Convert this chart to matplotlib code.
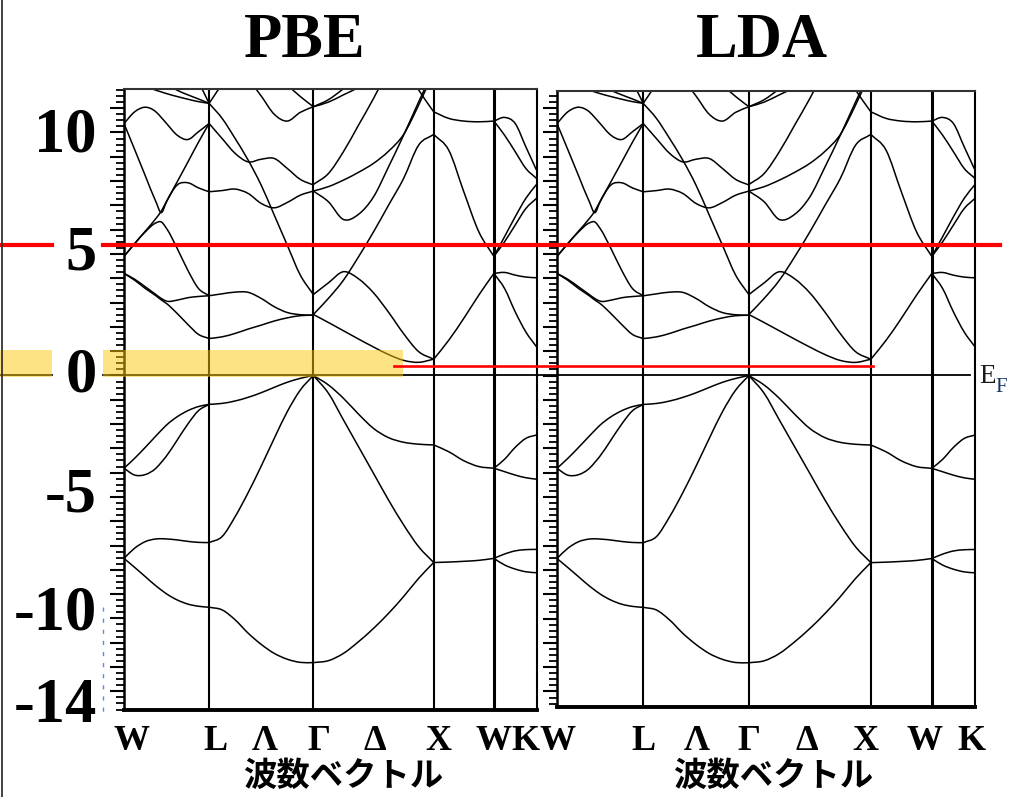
import numpy as np
import matplotlib.pyplot as plt
from matplotlib.ticker import MultipleLocator
from matplotlib.transforms import blended_transform_factory, ScaledTranslation
from matplotlib.patches import Rectangle, PathPatch
from matplotlib.lines import Line2D
from matplotlib.path import Path

plt.rcParams['font.family'] = ['Liberation Serif', 'DejaVu Serif']

# k-path W-L-Γ-X-W-K (2π/a units), labels incl. Λ and Δ midpoints
sym_k = [0.0, 0.707, 1.573, 2.573, 3.073, 3.427]
k_names = ['W', 'L', 'Λ', 'Γ', 'Δ', 'X', 'W', 'K']

# sampling fractions along each segment
frac_wl = [0, 0.125, 0.25, 0.375, 0.4375, 0.5, 0.625, 0.75, 0.875, 1]
frac9 = [0, 0.125, 0.25, 0.375, 0.5, 0.625, 0.75, 0.875, 1]
frac5 = [0, 0.25, 0.5, 0.75, 1]

# energies (eV), one row per curve
wl_bands = [
    [-7.53, -7.90, -8.28, -8.66, -8.83, -8.99, -9.24, -9.41, -9.50, -9.54],
    [-7.53, -7.11, -6.84, -6.73, -6.72, -6.73, -6.77, -6.83, -6.87, -6.88],
    [-3.82, -4.10, -4.08, -3.82, -3.58, -3.31, -2.66, -2.00, -1.45, -1.19],
    [-3.82, -3.41, -2.96, -2.49, -2.26, -2.04, -1.70, -1.45, -1.28, -1.19],
    [4.20, 3.92, 3.58, 3.28, 3.11, 2.96, 2.55, 2.10, 1.69, 1.52],
    [4.20, 3.96, 3.65, 3.33, 3.17, 3.06, 3.10, 3.20, 3.25, 3.28],
    [4.90, 5.43, 5.91, 6.28, 6.32, 6.05, 5.23, 4.33, 3.58, 3.28],
    [4.90, 5.42, 5.94, 6.46, 6.76, 7.17, 7.97, 8.78, 9.60, 10.37],
    [10.37, 9.30, 8.22, 7.15, 6.70, 7.15, 7.84, 7.93, 7.72, 7.56],
    [10.37, 10.85, 11.04, 10.85, 10.62, 10.37, 9.89, 9.71, 10.03, 10.37],
    [12.3, 12.1, 11.9, 11.74, 11.67, 11.6, 11.48, 11.37, 11.27, 11.2],
    [13.4, 13.0, 12.6, 12.3, 12.15, 12.0, 11.74, 11.55, 11.38, 11.2],
    [15.0, 14.8, 14.6, 14.3, 14.1, 13.9, 13.5, 13.0, 12.1, 11.2],
]
lg_bands = [
    [-9.54, -9.65, -10.06, -10.61, -11.07, -11.44, -11.68, -11.81, -11.82],
    [-6.88, -6.63, -5.81, -4.82, -3.73, -2.59, -1.49, -0.60, 0.0],
    [-1.19, -1.15, -1.05, -0.90, -0.71, -0.49, -0.28, -0.12, 0.0],
    [1.52, 1.59, 1.73, 1.91, 2.07, 2.24, 2.37, 2.46, 2.48],
    [3.28, 3.36, 3.43, 3.42, 3.17, 2.83, 2.59, 2.50, 2.48],
    [11.2, 10.58, 9.75, 8.86, 7.83, 6.60, 5.36, 4.13, 3.33],
    [10.37, 9.75, 9.14, 8.79, 8.90, 8.93, 8.52, 8.07, 7.84],
    [7.56, 7.61, 7.67, 7.49, 7.08, 6.90, 7.12, 7.42, 7.59],
    [14.0, 13.4, 12.8, 12.2, 11.5, 10.75, 10.47, 10.83, 11.06],
    [14.2, 13.9, 13.6, 13.3, 12.9, 12.4, 11.95, 11.48, 11.06],
    [11.2, 12.0, 12.8, 13.5, 14.0, 14.5, 15.0, 15.0, 15.0],
]
gx_bands = [
    [-11.82, -11.74, -11.44, -10.96, -10.41, -9.79, -9.10, -8.35, -7.70],
    [0.0, -0.73, -1.83, -2.93, -4.03, -5.13, -6.15, -7.05, -7.70],
    [0.0, -0.39, -0.94, -1.59, -2.18, -2.56, -2.75, -2.83, -2.86],
    [2.51, 2.18, 1.84, 1.50, 1.17, 0.86, 0.62, 0.54, 0.67],
    [3.33, 3.81, 4.27, 3.98, 3.40, 2.60, 1.72, 0.98, 0.67],
    [2.51, 3.17, 3.92, 4.88, 5.91, 7.01, 8.11, 9.48, 9.92],
    [7.59, 7.15, 6.42, 6.63, 7.35, 8.59, 9.89, 11.26, 12.6],
    [7.59, 7.77, 8.04, 8.36, 8.73, 9.23, 9.92, 11.13, 12.5],
    [7.86, 8.31, 9.21, 10.30, 11.40, 12.6, 13.8, 15.0, 16.0],
    [11.06, 11.35, 11.8, 12.3, 12.8, 13.3, 13.8, 14.3, 14.8],
    [11.06, 11.25, 11.55, 11.85, 12.2, 12.6, 13.0, 13.4, 13.8],
    [16.0, 15.5, 15.0, 14.5, 14.0, 13.5, 12.8, 11.75, 10.85],
]
xw_bands = [
    [-7.70, -7.68, -7.65, -7.61, -7.53],
    [-2.86, -3.14, -3.51, -3.75, -3.82],
    [0.67, 1.45, 2.35, 3.31, 4.20],
    [9.92, 9.27, 7.56, 5.91, 4.90],
    [10.85, 10.58, 10.47, 10.44, 10.47],
]
wk_bands = [
    [-7.53, -7.80, -7.97, -8.08, -8.12],
    [-7.53, -7.35, -7.22, -7.17, -7.16],
    [-3.82, -3.96, -4.10, -4.21, -4.27],
    [-3.82, -3.45, -2.96, -2.59, -2.45],
    [4.20, 3.58, 2.62, 1.79, 1.18],
    [4.20, 4.24, 4.13, 4.05, 4.02],
    [4.90, 5.50, 6.19, 6.87, 7.29],
    [4.90, 5.71, 6.53, 7.29, 7.86],
    [10.47, 10.62, 10.37, 9.41, 8.45],
    [10.47, 9.89, 9.21, 8.52, 8.11],
]

segments = [(0, 1, frac_wl, wl_bands), (1, 2, frac9, lg_bands),
            (2, 3, frac9, gx_bands), (3, 4, frac5, xw_bands),
            (4, 5, frac5, wk_bands)]

ytick_text = ['10', '5', '0', '-5', '-10', '-14']
ytick_base = [9.2, 4.38, -0.68, -5.62, -10.47, -14.26]   # label baselines

# label nudges in pixels (left panel, right panel)
xlab_dx_L = [8, 6, 4, 5, 1, 5, 0, -11.5]
xlab_dx_R = [0.5, 0, 1, 0, -3, -5, -7, -4]

highlight_red = 5.36     # red marker line
cbm_red = 0.37           # short red line near CBM
yellow_band = (-0.06, 1.05)


def smooth_path(x, y):
    # cubic Hermite through the read points, drawn as bezier pieces
    x = np.asarray(x, float)
    y = np.asarray(y, float)
    h = np.diff(x)
    d = np.diff(y) / h
    m = np.empty_like(y)
    m[0], m[-1] = d[0], d[-1]
    m[1:-1] = (h[1:] * d[:-1] + h[:-1] * d[1:]) / (h[:-1] + h[1:])
    verts = [(x[0], y[0])]
    codes = [Path.MOVETO]
    for i in range(len(h)):
        verts += [(x[i] + h[i] / 3, y[i] + m[i] * h[i] / 3),
                  (x[i + 1] - h[i] / 3, y[i + 1] - m[i + 1] * h[i] / 3),
                  (x[i + 1], y[i + 1])]
        codes += [Path.CURVE4] * 3
    return Path(verts, codes)


def draw_panel(ax, ylim, labels_on, xlab_dx):
    for i0, i1, fr, bands in segments:
        k = sym_k[i0] + np.array(fr) * (sym_k[i1] - sym_k[i0])
        for e in bands:
            ax.add_patch(PathPatch(smooth_path(k, e), fill=False,
                                   edgecolor='black', lw=1.1))
    for i in range(1, 5):
        ax.axvline(sym_k[i], color='black', lw=2.2 if i == 4 else 1.5)
    ax.set_xlim(sym_k[0], sym_k[-1])
    ax.set_ylim(*ylim)

    ax.set_xticks([])
    kt = [sym_k[0], sym_k[1], (sym_k[1] + sym_k[2]) / 2, sym_k[2],
          (sym_k[2] + sym_k[3]) / 2, sym_k[3], sym_k[4], sym_k[5]]
    base = blended_transform_factory(ax.transData, fig.transFigure)
    for name, kx, dx in zip(k_names, kt, xlab_dx):
        tr = base + ScaledTranslation(dx / 100, 0, fig.dpi_scale_trans)
        ax.text(kx, 1 - 750 / H, name, transform=tr, ha='center',
                va='baseline', fontsize=26, fontweight='bold', clip_on=False)

    ax.yaxis.set_major_locator(MultipleLocator(1))
    ax.yaxis.set_minor_locator(MultipleLocator(0.25))
    ax.tick_params(axis='y', which='major', direction='out', length=10,
                   width=1.5, labelleft=False)
    ax.tick_params(axis='y', which='minor', direction='out', length=5.5,
                   width=1.3)

    ax.spines['bottom'].set_linewidth(2.8)
    ax.spines['left'].set_linewidth(1.8)
    ax.spines['top'].set_linewidth(1.5)
    ax.spines['top'].set_color('#333333')
    ax.spines['right'].set_linewidth(1.5)

    if labels_on:
        tr = blended_transform_factory(ax.transAxes, ax.transData)
        for t, b in zip(ytick_text, ytick_base):
            ax.text(-0.0655, b, t, transform=tr, ha='right', va='baseline',
                    fontsize=45, fontweight='bold', clip_on=False)


W, H = 1013, 797
fig = plt.figure(figsize=(10.13, 7.97), dpi=100)
axL = fig.add_axes([124 / W, 1 - 710 / H, 412.5 / W, 621 / H])
axR = fig.add_axes([557 / W, 1 - 706.5 / H, 418 / W, 615.8 / H])

draw_panel(axL, (-13.77, 11.79), True, xlab_dx_L)
draw_panel(axR, (-13.62, 11.72), False, xlab_dx_R)

fig.text(305 / W, 1 - 57 / H, 'PBE', ha='center', va='baseline',
         fontsize=45, fontweight='bold')
fig.text(762 / W, 1 - 57 / H, 'LDA', ha='center', va='baseline',
         fontsize=45, fontweight='bold')

cjk = ['Noto Sans CJK JP', 'DejaVu Sans']
fig.text(343 / W, 1 - 776 / H, '波数ベクトル', ha='center', va='center',
         fontsize=24, fontweight='bold', family=cjk)
fig.text(773 / W, 1 - 776 / H, '波数ベクトル', ha='center', va='center',
         fontsize=24, fontweight='bold', family=cjk)

# E_F label
fig.text(979 / W, 1 - 383 / H, 'E', ha='left', va='baseline',
         fontsize=19.5, color='#1a1a1a')
fig.text(995 / W, 1 - 392 / H, 'F', ha='left', va='baseline',
         fontsize=15, color='#1a3366')

# overlays tied to the left panel's energy scale
T = blended_transform_factory(fig.transFigure, axL.transData)
for x0, x1 in [(0, 52), (103, 970)]:
    fig.add_artist(Line2D([x0 / W, x1 / W], [0, 0], transform=T,
                          color='black', lw=1.3, zorder=5))
for x0, x1 in [(0, 52), (103, 403)]:
    fig.add_artist(Rectangle((x0 / W, yellow_band[0]), (x1 - x0) / W,
                             yellow_band[1] - yellow_band[0], transform=T,
                             facecolor='#fcc808', alpha=0.5,
                             edgecolor='none', zorder=6))
for x0, x1 in [(0, 52), (103, 1000)]:
    fig.add_artist(Line2D([x0 / W, x1 / W], [highlight_red] * 2, transform=T,
                          color='#ff0000', lw=3.0, zorder=7))
fig.add_artist(Line2D([394 / W, 873 / W], [cbm_red] * 2, transform=T,
                      color='#ff0000', lw=1.9, zorder=7))
fig.add_artist(Line2D([103 / W, 103 / W], [-9.53, -13.9], transform=T,
                      color='#5b8fd0', lw=1.0, ls=(0, (3, 5)), zorder=7))
fig.add_artist(Line2D([1.5 / W, 1.5 / W], [0, 1], transform=fig.transFigure,
                      color='#333333', lw=1.3, zorder=7))

fig.savefig('out.png', dpi=100)
